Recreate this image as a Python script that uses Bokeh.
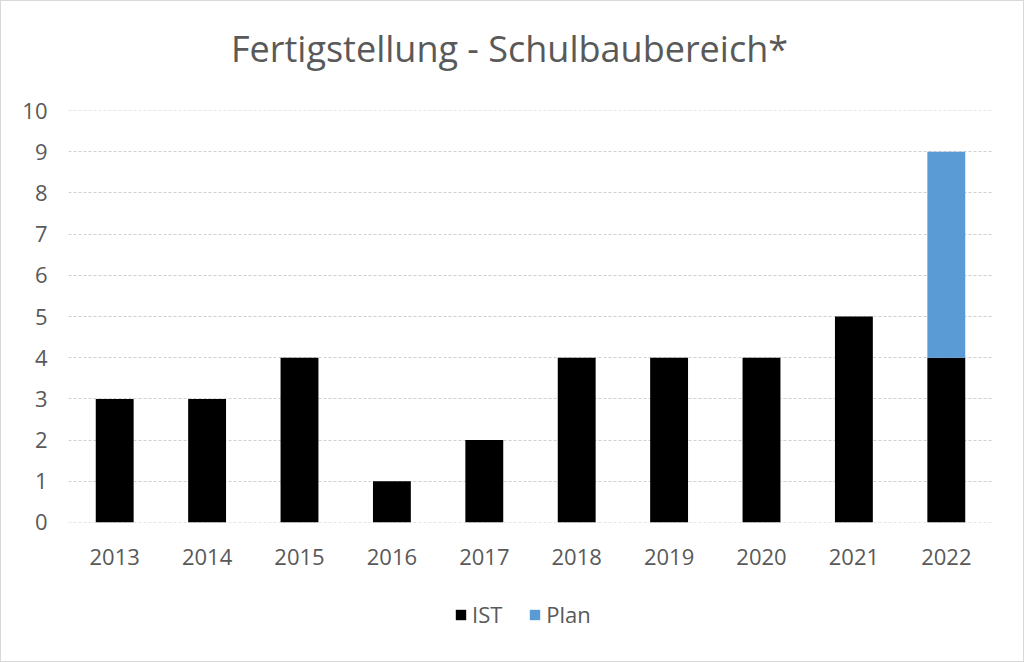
from bokeh.plotting import figure
from bokeh.models import ColumnDataSource, Legend, LegendItem, Label
from bokeh.layouts import column
from bokeh.embed import file_html
from bokeh.resources import INLINE

years = ["2013", "2014", "2015", "2016", "2017", "2018", "2019", "2020", "2021", "2022"]
ist = [3, 3, 4, 1, 2, 4, 4, 4, 5, 4]
plan = [0, 0, 0, 0, 0, 0, 0, 0, 0, 5]
y_ticks = [0, 1, 2, 3, 4, 5, 6, 7, 8, 9, 10]
series = ["IST", "Plan"]
colors = ["#000000", "#5B9BD5"]
title = "Fertigstellung - Schulbaubereich*"

FONT = "Open Sans"
GREY = "#595959"

source = ColumnDataSource(data=dict(year=years, IST=ist, Plan=plan))

# title strip (hidden axes still take room on the left, hence x=441)
head = figure(width=1022, height=90, output_backend="svg", toolbar_location=None,
              min_border=0, x_range=(0, 1), y_range=(0, 1))
head.axis.visible = False
head.grid.visible = False
head.outline_line_color = None
head.add_layout(Label(x=441, y=43, x_units="screen", y_units="screen",
                      text=title, text_font=FONT, text_font_size="36px",
                      text_color=GREY, text_align="center", text_baseline="middle"))

p = figure(x_range=years, y_range=(-0.001, 10.001), width=1022, height=491,
           output_backend="svg", toolbar_location=None,
           min_border_left=67, min_border_right=31,
           min_border_top=19, min_border_bottom=60)

p.vbar_stack(series, x="year", width=0.41, source=source,
             color=colors, line_color=None)

p.outline_line_color = None
p.xgrid.grid_line_color = None
p.ygrid.grid_line_color = "#d0d0d0"
p.ygrid.grid_line_dash = "3 2"
p.ygrid.grid_line_width = 1

p.yaxis.ticker = y_ticks
for ax in (p.xaxis, p.yaxis):
    ax.axis_line_color = None
    ax.major_tick_line_color = None
    ax.minor_tick_line_color = None
    ax.major_tick_out = 0
    ax.major_label_text_font = FONT
    ax.major_label_text_font_size = "22px"
    ax.major_label_text_color = GREY
p.yaxis.major_label_standoff = 21
p.xaxis.major_label_standoff = 26

# legend lives in its own strip below the chart; its bars sit out of view
leg = figure(width=1022, height=79, output_backend="svg", toolbar_location=None,
             min_border=0, x_range=years, y_range=(100, 101))
leg.axis.visible = False
leg.grid.visible = False
leg.outline_line_color = None
leg_bars = leg.vbar_stack(series, x="year", width=0.41, source=source,
                          color=colors, line_color=None)
items = [LegendItem(label=name, renderers=[r]) for name, r in zip(series, leg_bars)]
legend = Legend(items=items, location=(386, 32), orientation="horizontal",
                glyph_width=13, glyph_height=13, padding=0, margin=0,
                spacing=26, label_standoff=5, border_line_color=None,
                background_fill_alpha=0,
                label_text_font=FONT, label_text_font_size="22px",
                label_text_color=GREY)
leg.add_layout(legend)

layout = column(head, p, leg, spacing=0, styles={"border": "1px solid #d9d9d9"})

open("out.html", "w").write(file_html(layout, INLINE))
